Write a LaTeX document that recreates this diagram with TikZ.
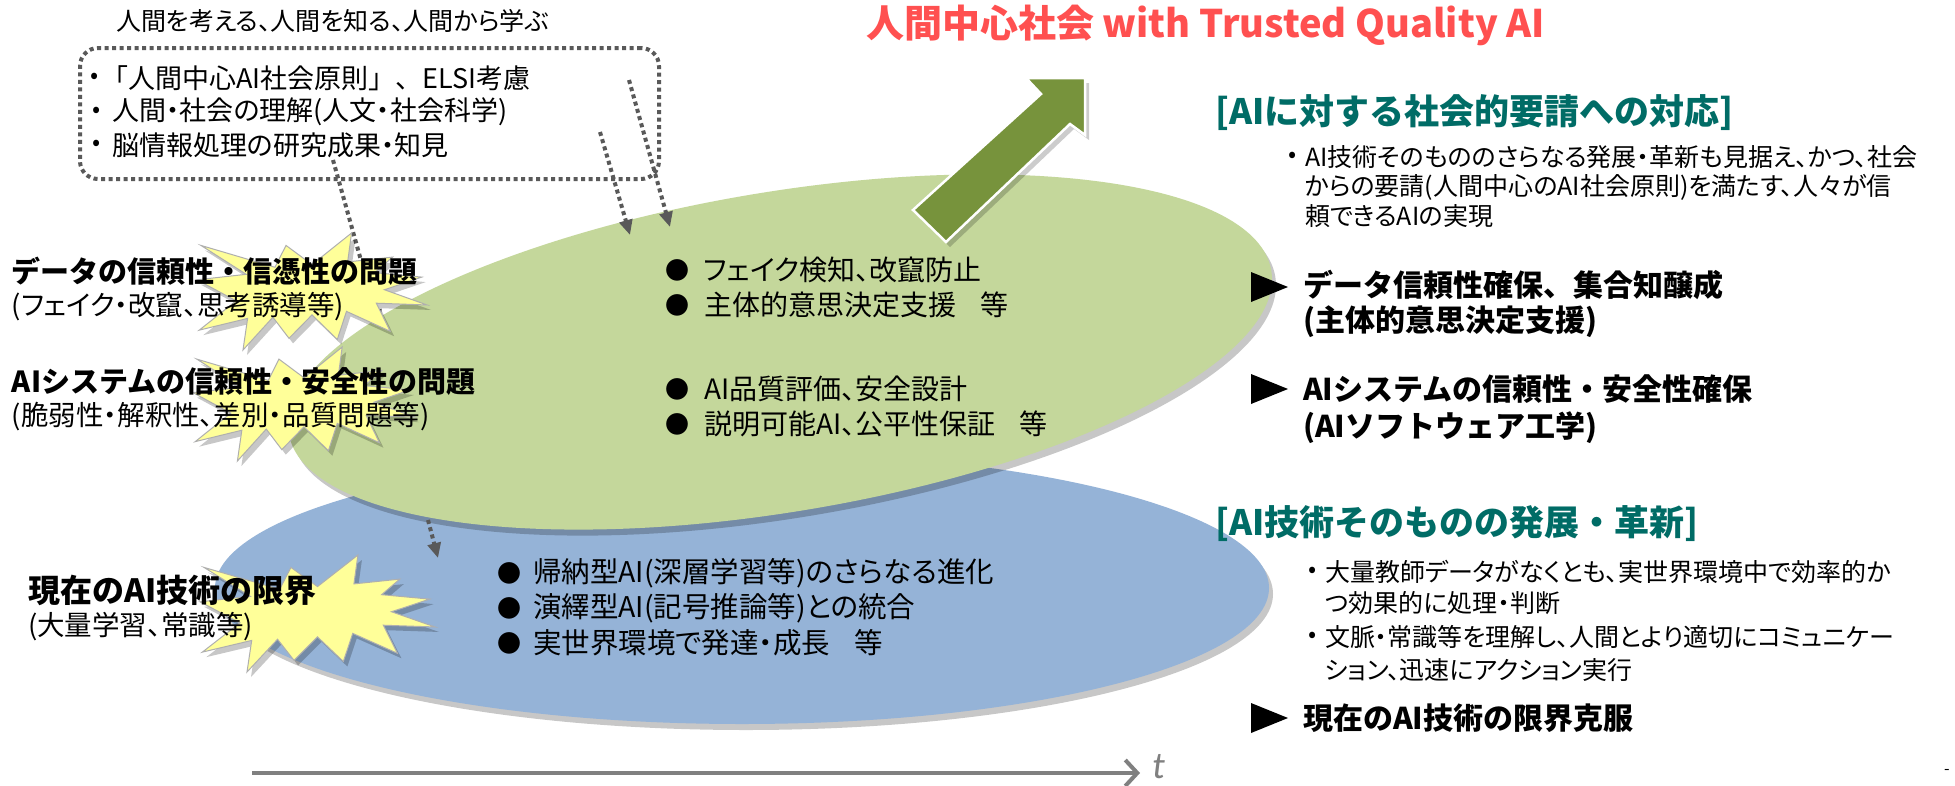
\documentclass[tikz,border=0pt]{standalone}
\usepackage{fontspec}
\setmainfont{Noto Sans CJK JP}[RawFeature=+palt]
\newfontfamily\nopalt{Noto Sans CJK JP}
\newfontfamily\tfont{Carlito}
\usetikzlibrary{arrows.meta}
\definecolor{titlered}{RGB}{255,80,80}
\definecolor{headteal}{RGB}{0,108,102}
\definecolor{greenell}{RGB}{196,215,155}
\definecolor{blueell}{RGB}{149,179,215}
\definecolor{arrowgreen}{RGB}{119,147,60}
\definecolor{staryellow}{RGB}{255,255,153}
\definecolor{stargray}{RGB}{175,175,175}
\definecolor{dotgray}{RGB}{89,89,89}
\definecolor{axisgray}{RGB}{128,128,128}
\newcommand{\FS}[1]{\fontsize{#1}{#1}\selectfont}
\newcommand{\explosionpath}[1]{\path[#1] (0.672,0) -- (0.655,0.247) -- (0.85,0.206) -- (0.773,0.339) -- (0.977,0.377) -- (0.815,0.485) -- (1,0.615) -- (0.78,0.6) -- (0.84,0.84) -- (0.65,0.67) -- (0.61,0.91) -- (0.5,0.7) -- (0.4,0.9) -- (0.33,0.72) -- (0.2,1) -- (0.22,0.73) -- (0.01,0.83) -- (0.17,0.58) -- (0,0.4) -- (0.214,0.353) -- (0.017,0.106) -- (0.339,0.293) -- (0.387,0.106) -- (0.5,0.27) -- cycle;}
\newcommand{\explosion}[4]{%
  \begin{scope}[shift={(#1+4,#2+5)},xscale=#3,yscale=#4]\explosionpath{fill=black,opacity=0.22}\end{scope}
  \begin{scope}[shift={(#1,#2)},xscale=#3,yscale=#4]\explosionpath{fill=staryellow,draw=stargray,line width=1pt,miter limit=20}\end{scope}}
\begin{document}
\begin{tikzpicture}[x=1pt,y=-1pt,
  base/.style={anchor=west,inner sep=0pt,outer sep=0pt},
  ttl/.style={base,text=titlered,font=\nopalt\FS{38}\bfseries},
  captxt/.style={base,font=\FS{25}},
  boxtxt/.style={base,font=\FS{27}},
  lbold/.style={base,font=\nopalt\FS{29}\bfseries},
  lsub/.style={base,font=\FS{27.5}},
  etxt/.style={base,font=\FS{28}},
  ebul/.style={anchor=center,inner sep=0pt,font=\nopalt\FS{24}},
  head/.style={base,text=headteal,font=\nopalt\FS{35}\bfseries},
  rtxt/.style={base,font=\FS{25}},
  rbold/.style={base,font=\nopalt\FS{30}\bfseries},
  bul/.style={anchor=center,inner sep=0pt,font=\nopalt\FS{24}},
  dotline/.style={draw=dotgray,line width=4pt,dash pattern=on 4pt off 3.5pt},
  dotarrow/.style={dotline,-{Triangle[length=15pt,width=13pt]}},
  tri/.style={fill=black},
]
\useasboundingbox (0,0) rectangle (1955,785);
\fill[white] (0,0) rectangle (1955,785);

% ellipses
\coordinate (bc) at (742,588);
\coordinate (gc) at (780,352);
\fill[black,opacity=0.22] (746,594) ellipse [x radius=527,y radius=136];
\fill[blueell] (bc) ellipse [x radius=527,y radius=136];
\fill[black,opacity=0.22,rotate around={9.4:(784,358)}] (784,358) ellipse [x radius=498,y radius=160];
\fill[greenell,rotate around={9.4:(gc)}] (gc) ellipse [x radius=498,y radius=160];

% dotted box and arrows
\node[dotline,rounded corners=18pt,minimum width=579pt,minimum height=131pt,anchor=north west,inner sep=0pt] (box) at (78,46) {};
\coordinate (a1s) at (629,80);  \coordinate (a1e) at (670,227);
\coordinate (a2s) at (600,132); \coordinate (a2e) at (630,235);
\coordinate (a3s) at (333,160); \coordinate (a3e) at (379,325);
\coordinate (a4s) at (428,520); \coordinate (a4e) at (438,558);
\draw[dotarrow] (a1s) -- (a1e);
\draw[dotarrow] (a2s) -- (a2e);
\draw[dotarrow] (a3s) -- (a3e);
\draw[dotarrow] (a4s) -- (a4e);

% big green arrow
\fill[black,opacity=0.2,shift={(4,5)}] (1085,78) -- (1026,78) -- (1041,94) -- (913,210) -- (946,242) -- (1070,124) -- (1085,135) -- cycle;
\filldraw[fill=arrowgreen,draw=white,line width=2.5pt] (1085,78) -- (1026,78) -- (1041,94) -- (913,210) -- (946,242) -- (1070,124) -- (1085,135) -- cycle;

% explosions
\explosion{197}{233}{230}{117}
\explosion{193}{347}{222}{114}
\explosion{200}{555}{235}{117}

% title
\node[ttl] (title) at (866,25) {人間中心社会 with Trusted Quality AI};

% top-left box
\node[captxt] (cap) at (116,21) {人間を考える、人間を知る、人間から学ぶ};
\node[bul] (b1) at (95,78) {•};
\node[bul] (b2) at (97,112) {•};
\node[bul] (b3) at (97,145) {•};
\node[boxtxt,font=\nopalt\FS{27}] (t1) at (101,78) {「人間中心AI社会原則」、ELSI考慮};
\node[boxtxt] (t2) at (112,112) {人間・社会の理解(人文・社会科学)};
\node[boxtxt] (t3) at (112,145) {脳情報処理の研究成果・知見};

% left labels
\node[lbold] (l1) at (12,271) {データの信頼性・信憑性の問題};
\node[lsub] (l1s) at (12,307) {(フェイク・改竄、思考誘導等)};
\node[lbold] (l2) at (12,382) {AIシステムの信頼性・安全性の問題};
\node[lsub] (l2s) at (12,417) {(脆弱性・解釈性、差別・品質問題等)};
\node[lbold,font=\nopalt\FS{32}\bfseries] (l3) at (28,590) {現在のAI技術の限界};
\node[lsub] (l3s) at (28,627) {(大量学習、常識等)};

% green ellipse text
\node[ebul] (gb1) at (677,270) {●};
\node[ebul] (gb2) at (677,305) {●};
\node[ebul] (gb3) at (677,389) {●};
\node[ebul] (gb4) at (677,424) {●};
\node[etxt] (g1) at (704,270) {フェイク検知、改竄防止};
\node[etxt] (g2) at (704,305) {主体的意思決定支援\hspace{24pt}等};
\node[etxt] (g3) at (704,389) {AI品質評価、安全設計};
\node[etxt] (g4) at (704,424) {説明可能AI、公平性保証\hspace{24pt}等};

% blue ellipse text
\node[ebul] (ub1) at (509,573) {●};
\node[ebul] (ub2) at (509,608) {●};
\node[ebul] (ub3) at (509,643) {●};
\node[etxt,font=\FS{28.5}] (u1) at (533,573) {帰納型AI(深層学習等)のさらなる進化};
\node[etxt,font=\FS{28.5}] (u2) at (533,608) {演繹型AI(記号推論等)との統合};
\node[etxt,font=\FS{28.5}] (u3) at (533,643) {実世界環境で発達・成長\hspace{24pt}等};

% right column
\node[head] (h1) at (1215,113) {[AIに対する社会的要請への対応]};
\node[bul] (rb1) at (1293,157) {•};
\node[rtxt] (r1) at (1305,157) {AI技術そのもののさらなる発展・革新も見据え、かつ、社会};
\node[rtxt] (r2) at (1305,187) {からの要請(人間中心のAI社会原則)を満たす、人々が信};
\node[rtxt] (r3) at (1305,216) {頼できるAIの実現};

\fill[tri] (1251,272) -- (1251,302) -- (1288,287) -- cycle;
\node[rbold] (s1) at (1303,285) {データ信頼性確保、集合知醸成};
\node[rbold] (s1b) at (1303,322) {(主体的意思決定支援)};
\fill[tri] (1251,374) -- (1251,404) -- (1288,389) -- cycle;
\node[rbold] (s2) at (1303,389) {AIシステムの信頼性・安全性確保};
\node[rbold] (s2b) at (1303,428) {(AIソフトウェア工学)};

\node[head] (h2) at (1215,524) {[AI技術そのものの発展・革新]};
\node[bul] (rb2) at (1313,572) {•};
\node[rtxt] (r4) at (1325,572) {大量教師データがなくとも、実世界環境中で効率的か};
\node[rtxt] (r5) at (1325,603) {つ効果的に処理・判断};
\node[bul] (rb3) at (1313,637) {•};
\node[rtxt] (r6) at (1325,637) {文脈・常識等を理解し、人間とより適切にコミュニケー};
\node[rtxt] (r7) at (1325,670) {ション、迅速にアクション実行};
\fill[tri] (1251,703) -- (1251,733) -- (1288,718) -- cycle;
\node[rbold] (s3) at (1303,718) {現在のAI技術の限界克服};

% time axis
\coordinate (ax0) at (252,773);
\coordinate (ax1) at (1140,773);
\draw[axisgray,line width=4pt,-{Straight Barb[length=12pt,width=26pt]}] (ax0) -- (ax1);
\node[base,text=axisgray,font=\tfont\itshape\FS{38}] (tlab) at (1152,767) {t};
\node[base,font=\FS{16}] (dash) at (1944,772) {-};
\end{tikzpicture}
\end{document}
